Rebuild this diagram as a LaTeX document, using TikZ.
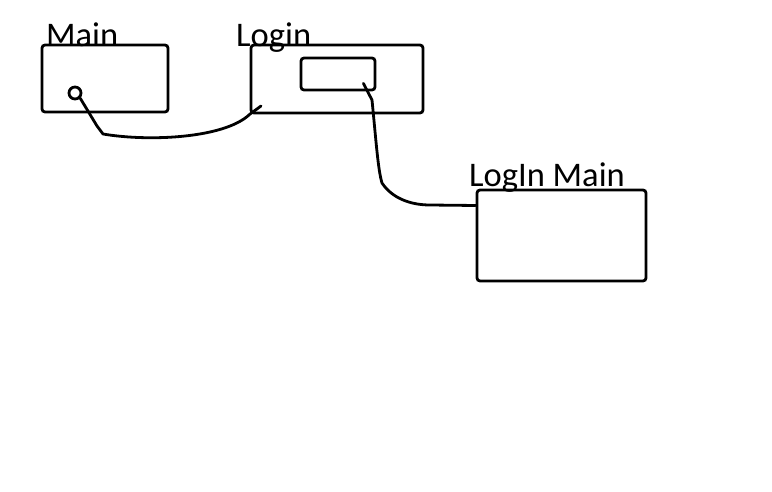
\documentclass[tikz,border=0pt]{standalone}
\usepackage{fontspec}
\setmainfont{Carlito}
\usetikzlibrary{positioning,calc}

\begin{document}
\begin{tikzpicture}[x=1pt, y=-1pt,
  screen/.style={draw, line width=2.8pt, rounded corners=3pt, inner sep=0pt},
  title/.style={anchor=base west, inner sep=0pt, font=\fontsize{34.5}{38}\selectfont},
  link/.style={line width=2.8pt, line cap=round, line join=round}
]
  \useasboundingbox (0,0) rectangle (772,492);

  % Screens
  \node[screen, minimum width=126pt, minimum height=67pt] (main) at (105,78.5) {};
  \node[screen, minimum width=172pt, minimum height=68pt] (login) at (337,79) {};
  \node[screen, minimum width=169pt, minimum height=91pt] (loginmain) at (561.5,235.5) {};

  % Widgets
  \node[draw, circle, line width=2.8pt, minimum size=12pt, inner sep=0pt] (btn) at (75,93) {};
  \node[screen, minimum width=74pt, minimum height=32pt] (field) at (338,74) {};

  % Titles
  \node[title] (maint) at (46,47) {Main};
  \node[title] (logint) at (236,47) {Login};
  \node[title] (loginmaint) at (469,187) {LogIn Main};

  % Links
  \draw[link] (btn.south east) -- (97,126) -- (103,134)
    .. controls (150,142) and (225,138) .. (login.south west) -- (261,106);
  \draw[link] ([xshift=-13pt,yshift=8pt]field.south east) -- (372,100)
    .. controls (376,140) and (378,170) .. (382,183)
    .. controls (392,198) and (410,205) .. (430,205)
    -- ([yshift=30pt]loginmain.west);
\end{tikzpicture}
\end{document}
